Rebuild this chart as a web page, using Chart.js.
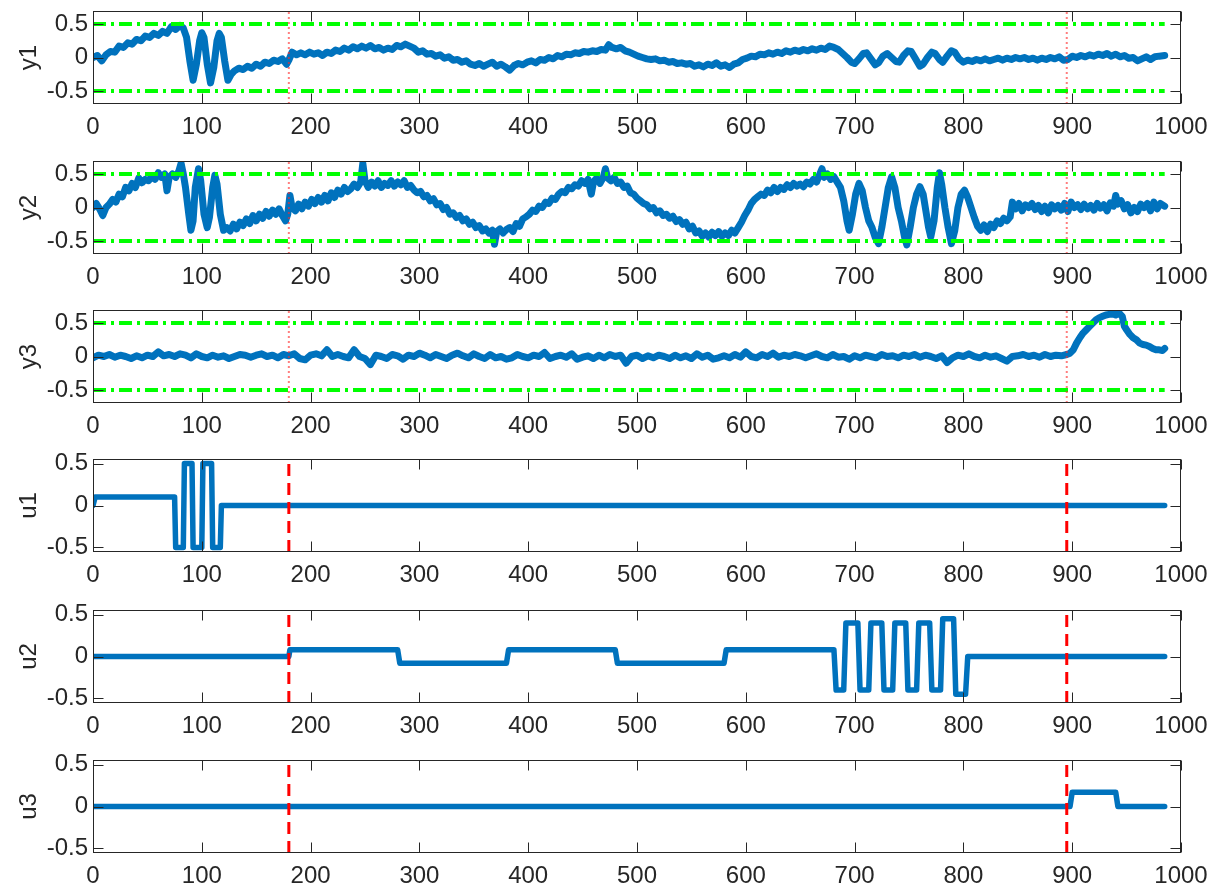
<!DOCTYPE html>
<html>
<head>
<meta charset="utf-8">
<script src="https://cdn.jsdelivr.net/npm/chart.js@4"></script>
<style>
  html, body { margin: 0; padding: 0; background: #fff; overflow: hidden; }
  .panel { position: absolute; left: 0; width: 1217px; height: 136px; }
</style>
</head>
<body>
<div class="panel" style="top:1px"><canvas id="c0" width="1217" height="136"></canvas></div>
<div class="panel" style="top:151px"><canvas id="c1" width="1217" height="136"></canvas></div>
<div class="panel" style="top:300px"><canvas id="c2" width="1217" height="136"></canvas></div>
<div class="panel" style="top:449px"><canvas id="c3" width="1217" height="136"></canvas></div>
<div class="panel" style="top:600px"><canvas id="c4" width="1217" height="136"></canvas></div>
<div class="panel" style="top:750px"><canvas id="c5" width="1217" height="136"></canvas></div>
<script>
// outputs y1..y3 as [time, value]
const y1Points = [[0,0.00],[4,0.03],[8,-0.05],[12,0.04],[16,0.09],[20,0.08],[24,0.17],[28,0.15],[32,0.22],[36,0.2],[40,0.27],[44,0.25],[48,0.32],[52,0.3],[56,0.36],[60,0.33],[64,0.39],[68,0.36],[72,0.46],[76,0.42],[80,0.48],[83,0.44],[86,0.3],[89,-0.05],[92,-0.34],[95,-0.1],[98,0.25],[100,0.37],[102,0.3],[105,-0.1],[108,-0.38],[111,-0.15],[114,0.25],[116,0.36],[118,0.3],[121,-0.05],[124,-0.34],[127,-0.25],[130,-0.2],[134,-0.16],[138,-0.18],[142,-0.13],[146,-0.16],[150,-0.1],[154,-0.13],[158,-0.07],[162,-0.09],[166,-0.04],[170,-0.06],[174,-0.02],[178,-0.1],[180,-0.04],[183,0.08],[187,0.04],[191,0.07],[195,0.04],[199,0.08],[203,0.05],[207,0.07],[211,0.03],[215,0.08],[219,0.06],[223,0.11],[227,0.09],[231,0.14],[235,0.11],[239,0.16],[243,0.13],[247,0.17],[251,0.14],[255,0.18],[259,0.13],[263,0.15],[267,0.11],[271,0.14],[275,0.12],[279,0.18],[283,0.16],[287,0.2],[291,0.17],[295,0.14],[299,0.08],[303,0.1],[307,0.05],[311,0.06],[315,0.02],[319,0.04],[323,-0.01],[327,0.01],[331,-0.04],[335,-0.03],[339,-0.07],[343,-0.05],[347,-0.1],[351,-0.12],[355,-0.09],[359,-0.13],[363,-0.1],[367,-0.07],[371,-0.13],[375,-0.1],[379,-0.14],[383,-0.19],[387,-0.12],[391,-0.09],[395,-0.11],[399,-0.07],[403,-0.05],[407,-0.08],[411,-0.03],[415,-0.04],[419,0.0],[423,-0.02],[427,0.03],[431,0.01],[435,0.05],[439,0.04],[443,0.07],[447,0.06],[451,0.09],[455,0.08],[459,0.1],[463,0.09],[467,0.12],[471,0.11],[474,0.19],[477,0.15],[481,0.13],[485,0.15],[489,0.1],[493,0.08],[497,0.05],[501,0.02],[505,0.0],[509,-0.02],[513,-0.03],[517,-0.02],[521,-0.05],[525,-0.04],[529,-0.07],[533,-0.06],[537,-0.09],[541,-0.08],[545,-0.1],[549,-0.09],[553,-0.13],[557,-0.11],[561,-0.14],[565,-0.1],[569,-0.12],[573,-0.08],[577,-0.13],[581,-0.11],[585,-0.15],[589,-0.1],[593,-0.08],[597,-0.03],[601,-0.01],[605,0.02],[609,0.01],[613,0.05],[617,0.04],[621,0.07],[625,0.05],[629,0.08],[633,0.06],[637,0.1],[641,0.08],[645,0.11],[649,0.09],[653,0.12],[657,0.1],[661,0.13],[665,0.11],[669,0.14],[673,0.12],[677,0.17],[681,0.15],[685,0.12],[689,0.06],[693,0.0],[697,-0.07],[700,-0.09],[704,-0.02],[708,0.06],[711,0.07],[715,-0.02],[719,-0.11],[722,-0.08],[726,0.02],[730,0.06],[734,0.0],[738,-0.06],[741,-0.07],[745,0.03],[749,0.1],[752,0.09],[756,-0.02],[760,-0.13],[763,-0.1],[767,0.0],[771,0.08],[774,0.06],[778,-0.03],[781,-0.07],[785,0.02],[789,0.1],[792,0.08],[796,-0.02],[800,-0.07],[804,-0.04],[808,-0.06],[812,-0.03],[816,-0.05],[820,-0.02],[824,-0.05],[828,-0.03],[832,-0.01],[836,-0.04],[840,-0.01],[844,-0.03],[848,0.0],[852,-0.02],[856,0.0],[860,-0.03],[864,-0.01],[868,-0.04],[872,-0.01],[876,-0.03],[880,0.0],[884,-0.02],[888,0.01],[892,-0.04],[896,-0.03],[900,0.02],[904,0.0],[908,0.03],[912,0.01],[916,0.04],[920,0.02],[924,0.05],[928,0.03],[932,0.06],[936,0.02],[940,0.05],[944,0.01],[948,0.03],[952,-0.01],[956,0.0],[960,-0.05],[964,-0.02],[968,0.01],[972,-0.03],[976,0.01],[980,0.02],[985,0.03]];

const y2Points = [[0,0.0],[3,0.06],[6,-0.02],[9,-0.12],[12,0.0],[15,0.05],[18,0.12],[21,0.08],[24,0.2],[27,0.16],[30,0.3],[33,0.25],[36,0.36],[39,0.3],[42,0.44],[45,0.37],[48,0.42],[51,0.4],[54,0.46],[57,0.42],[60,0.52],[63,0.45],[66,0.5],[68,0.25],[70,0.45],[73,0.5],[76,0.45],[79,0.55],[81,0.66],[83,0.5],[85,0.3],[88,-0.1],[90,-0.34],[92,-0.2],[94,0.3],[97,0.58],[99,0.4],[102,-0.1],[105,-0.3],[107,-0.15],[110,0.3],[112,0.48],[114,0.35],[117,-0.1],[120,-0.34],[123,-0.3],[126,-0.35],[129,-0.25],[132,-0.32],[135,-0.22],[138,-0.27],[141,-0.17],[144,-0.24],[147,-0.12],[150,-0.2],[153,-0.1],[156,-0.16],[159,-0.06],[162,-0.13],[165,-0.04],[168,-0.1],[171,-0.02],[174,-0.12],[177,-0.2],[179,-0.1],[181,0.18],[183,0.0],[186,-0.05],[189,0.05],[192,-0.02],[195,0.08],[198,0.02],[201,0.12],[204,0.06],[207,0.15],[210,0.08],[213,0.18],[216,0.1],[219,0.22],[222,0.15],[225,0.26],[228,0.2],[231,0.3],[234,0.24],[237,0.28],[240,0.35],[243,0.3],[246,0.38],[248,0.66],[250,0.4],[253,0.3],[256,0.38],[259,0.32],[262,0.4],[265,0.3],[268,0.36],[271,0.33],[274,0.4],[277,0.32],[280,0.38],[283,0.34],[286,0.4],[289,0.3],[292,0.33],[295,0.26],[298,0.22],[301,0.24],[304,0.16],[307,0.18],[310,0.1],[313,0.13],[316,0.04],[319,0.06],[322,-0.03],[325,0.0],[328,-0.1],[331,-0.08],[334,-0.15],[337,-0.12],[340,-0.2],[343,-0.17],[346,-0.25],[349,-0.22],[352,-0.3],[355,-0.27],[358,-0.35],[361,-0.32],[364,-0.38],[367,-0.34],[369,-0.55],[371,-0.36],[374,-0.32],[377,-0.38],[380,-0.33],[383,-0.3],[386,-0.36],[389,-0.24],[392,-0.28],[395,-0.17],[398,-0.14],[401,-0.1],[404,-0.04],[407,-0.06],[410,0.02],[413,0.0],[416,0.08],[419,0.06],[422,0.14],[425,0.12],[428,0.2],[431,0.24],[434,0.22],[437,0.3],[440,0.28],[443,0.34],[446,0.32],[449,0.4],[452,0.36],[455,0.42],[458,0.2],[460,0.38],[463,0.44],[466,0.36],[469,0.45],[471,0.58],[473,0.44],[476,0.4],[479,0.45],[482,0.36],[485,0.38],[488,0.3],[491,0.32],[494,0.22],[497,0.2],[500,0.14],[503,0.1],[506,0.06],[509,0.04],[512,-0.02],[515,0.0],[518,-0.08],[521,-0.05],[524,-0.12],[527,-0.1],[530,-0.16],[533,-0.13],[536,-0.21],[539,-0.18],[542,-0.25],[545,-0.22],[548,-0.32],[551,-0.28],[554,-0.38],[557,-0.35],[560,-0.43],[563,-0.38],[566,-0.44],[569,-0.37],[572,-0.42],[575,-0.36],[578,-0.43],[581,-0.38],[584,-0.42],[587,-0.34],[590,-0.38],[593,-0.3],[596,-0.22],[599,-0.12],[602,-0.04],[605,0.06],[608,0.12],[611,0.16],[614,0.2],[617,0.18],[620,0.26],[623,0.22],[626,0.3],[629,0.24],[632,0.3],[635,0.27],[638,0.34],[641,0.3],[644,0.36],[647,0.32],[650,0.35],[653,0.31],[656,0.38],[659,0.35],[662,0.42],[665,0.38],[668,0.5],[670,0.58],[672,0.45],[675,0.5],[678,0.42],[681,0.46],[684,0.38],[687,0.3],[690,0.1],[693,-0.2],[695,-0.34],[698,-0.1],[701,0.2],[704,0.36],[707,0.25],[710,0.0],[713,-0.2],[716,-0.3],[719,-0.45],[722,-0.54],[725,-0.3],[728,0.0],[731,0.3],[734,0.46],[737,0.3],[740,0.0],[743,-0.2],[746,-0.45],[748,-0.56],[751,-0.3],[754,0.0],[757,0.2],[760,0.31],[763,0.2],[766,-0.1],[768,-0.3],[770,-0.44],[773,-0.2],[776,0.3],[778,0.52],[780,0.35],[783,0.0],[786,-0.3],[789,-0.54],[792,-0.35],[795,0.0],[798,0.2],[801,0.26],[804,0.15],[807,0.0],[810,-0.15],[813,-0.28],[816,-0.34],[819,-0.26],[822,-0.36],[825,-0.25],[828,-0.3],[831,-0.2],[834,-0.24],[837,-0.16],[840,-0.2],[843,-0.14],[845,0.08],[848,-0.02],[851,0.06],[854,-0.05],[857,0.04],[860,0.0],[863,0.06],[866,-0.03],[869,0.03],[872,-0.06],[875,0.02],[878,-0.08],[881,0.04],[884,-0.02],[887,0.03],[890,-0.04],[893,0.06],[896,-0.06],[899,0.08],[902,0.0],[905,0.04],[908,-0.03],[911,0.05],[914,-0.02],[917,0.03],[920,-0.04],[923,0.06],[926,-0.01],[929,0.04],[932,-0.05],[935,0.07],[938,0.02],[940,0.18],[942,0.05],[945,0.1],[948,-0.02],[951,0.04],[954,-0.08],[957,0.0],[960,-0.06],[963,0.05],[966,0.0],[969,0.06],[972,-0.05],[975,0.08],[978,-0.02],[981,0.06],[985,0.02]];

const y3Points = [[0,-0.02],[5,0.02],[10,0.0],[15,0.03],[20,-0.01],[25,0.02],[30,0.0],[35,-0.03],[40,0.01],[45,-0.02],[50,0.02],[55,0.0],[60,0.07],[65,0.01],[70,0.03],[75,0.0],[80,0.04],[85,0.02],[90,-0.02],[95,0.04],[100,0.0],[105,-0.02],[110,0.02],[115,-0.01],[120,0.01],[125,-0.03],[130,0.0],[135,0.03],[140,0.02],[145,-0.01],[150,0.02],[155,0.04],[160,0.0],[165,0.02],[170,-0.02],[175,0.03],[180,0.01],[185,0.04],[190,-0.03],[195,-0.05],[200,0.02],[205,0.04],[210,0.01],[215,0.1],[220,0.0],[225,0.03],[230,0.0],[235,-0.02],[240,0.1],[245,0.0],[250,-0.03],[255,-0.12],[260,0.02],[265,0.0],[270,-0.03],[275,0.03],[280,0.01],[285,-0.04],[290,0.02],[295,0.0],[300,0.05],[305,0.02],[310,-0.02],[315,0.03],[320,0.0],[325,-0.03],[330,0.02],[335,0.05],[340,0.01],[345,-0.02],[350,0.04],[355,0.0],[360,-0.03],[365,0.03],[370,-0.02],[375,0.0],[380,-0.04],[385,-0.02],[390,0.03],[395,0.0],[400,-0.02],[405,0.02],[410,0.0],[415,0.06],[420,-0.03],[425,0.0],[430,0.02],[435,-0.01],[440,0.04],[445,-0.04],[450,-0.01],[455,0.01],[460,-0.03],[465,0.02],[470,-0.02],[475,0.03],[480,0.0],[485,0.02],[490,-0.1],[495,0.0],[500,0.02],[505,-0.03],[510,0.01],[515,-0.02],[520,0.02],[525,0.0],[530,-0.03],[535,0.02],[540,-0.02],[545,0.01],[550,-0.03],[555,0.04],[560,-0.01],[565,0.02],[570,-0.04],[575,-0.02],[580,0.01],[585,-0.02],[590,0.03],[595,-0.01],[600,0.07],[605,0.0],[610,-0.02],[615,0.03],[620,0.0],[625,0.05],[630,-0.01],[635,0.02],[640,0.0],[645,0.03],[650,0.01],[655,-0.02],[660,0.01],[665,0.04],[670,0.0],[675,-0.02],[680,0.03],[685,-0.01],[690,0.0],[695,-0.04],[700,0.01],[705,-0.02],[710,0.02],[715,0.0],[720,-0.02],[725,0.03],[730,0.0],[735,0.01],[740,-0.02],[745,0.02],[750,0.0],[755,0.03],[760,-0.01],[765,0.02],[770,0.0],[775,-0.03],[780,0.01],[785,-0.09],[790,-0.02],[795,0.02],[800,0.0],[805,0.04],[810,0.0],[815,-0.02],[820,0.02],[825,-0.01],[830,0.01],[835,-0.03],[840,-0.07],[845,0.0],[850,0.01],[855,0.03],[860,0.0],[865,0.02],[870,-0.01],[875,0.03],[880,0.0],[885,0.02],[890,0.01],[895,0.03],[898,0.05],[901,0.1],[904,0.2],[907,0.28],[910,0.35],[913,0.4],[916,0.45],[919,0.5],[922,0.55],[925,0.58],[928,0.6],[931,0.62],[934,0.63],[937,0.64],[940,0.62],[943,0.65],[946,0.6],[948,0.45],[950,0.4],[953,0.33],[956,0.28],[959,0.25],[962,0.2],[965,0.18],[968,0.17],[971,0.15],[974,0.12],[977,0.1],[980,0.1],[983,0.09],[985,0.12]];

// inputs u1..u3 (step signals)
const u1Points = [[0,0],[2,0.1],[75,0.1],[76,-0.5],[83,-0.5],[84,0.5],[91,0.5],[92,-0.5],[100,-0.5],[101,0.5],[109,0.5],[110,-0.5],[117,-0.5],[118,0],[985,0]];
const u2Points = [[0,0],[180,0],[181,0.08],[280,0.08],[282,-0.08],[380,-0.08],[382,0.08],[480,0.08],[482,-0.08],[580,-0.08],[582,0.08],[681,0.08],[683,-0.4],[690,-0.4],[692,0.4],[703,0.4],[705,-0.4],[713,-0.4],[715,0.4],[725,0.4],[727,-0.4],[735,-0.4],[737,0.4],[747,0.4],[749,-0.4],[757,-0.4],[759,0.4],[769,0.4],[771,-0.4],[779,-0.4],[781,0.45],[791,0.45],[793,-0.45],[802,-0.45],[804,0],[985,0]];
const u3Points = [[0,0],[898,0],[900,0.17],[940,0.17],[942,0],[985,0]];

const limitLevels = [0.5, -0.5];
const limitSpan = [0, 985];
const markerTimes = [180, 895];
const xTicks = [0, 100, 200, 300, 400, 500, 600, 700, 800, 900, 1000];
const yTicks = [-0.5, 0, 0.5];

const FONT = { family: "'Liberation Sans', Arial, sans-serif", size: 24 };
const TEXT = '#262626';
const BLUE = '#0072BD';

// MATLAB-like box with inward ticks
const boxPlugin = {
  id: 'box',
  afterDraw(chart) {
    const { ctx, chartArea: a, scales } = chart;
    const L = Math.round(a.left) + 0.5, R = Math.round(a.right) - 0.5;
    const T = Math.round(a.top) + 0.5, B = Math.round(a.bottom) - 0.5;
    ctx.save();
    ctx.strokeStyle = TEXT;
    ctx.lineWidth = 1;
    ctx.strokeRect(L, T, R - L, B - T);
    ctx.beginPath();
    xTicks.forEach(v => {
      const px = Math.round(scales.x.getPixelForValue(v)) + 0.5;
      ctx.moveTo(px, B); ctx.lineTo(px, B - 10);
      ctx.moveTo(px, T); ctx.lineTo(px, T + 10);
    });
    yTicks.forEach(v => {
      const py = Math.round(scales.y.getPixelForValue(v)) + 0.5;
      ctx.moveTo(L, py); ctx.lineTo(L + 10, py);
      ctx.moveTo(R, py); ctx.lineTo(R - 10, py);
    });
    ctx.stroke();
    ctx.restore();
  }
};

function toXY(points) {
  return points.map(p => ({ x: p[0], y: p[1] }));
}

function makePanel(id, label, points, lim, isInput) {
  const datasets = [];
  // vertical markers
  markerTimes.forEach(t => {
    datasets.push({
      data: isInput ? [{ x: t, y: -lim }, { x: t, y: 0.5 }] : [{ x: t, y: -lim }, { x: t, y: lim }],
      borderColor: isInput ? '#FF0000' : 'rgba(255,40,40,0.6)',
      borderWidth: isInput ? 3 : 2,
      borderDash: isInput ? [12, 7] : [2, 3],
      pointRadius: 0
    });
  });
  // limit lines for outputs
  if (!isInput) {
    limitLevels.forEach(v => {
      datasets.push({
        data: limitSpan.map(t => ({ x: t, y: v })),
        borderColor: '#00FF00',
        borderWidth: 4,
        borderDash: [13, 5, 3, 5],
        pointRadius: 0
      });
    });
  }
  datasets.push({
    data: toXY(points),
    borderColor: BLUE,
    borderWidth: isInput ? 5.5 : 7,
    borderJoinStyle: 'round',
    borderCapStyle: 'round',
    pointRadius: 0,
    tension: 0
  });

  new Chart(document.getElementById(id), {
    type: 'line',
    data: { datasets },
    options: {
      responsive: false,
      animation: false,
      layout: { padding: { left: 0, right: 36, top: 10, bottom: 0 } },
      plugins: { legend: { display: false }, tooltip: { enabled: false } },
      scales: {
        x: {
          type: 'linear', min: 0, max: 1000,
          afterBuildTicks: s => { s.ticks = xTicks.map(v => ({ value: v })); },
          ticks: { font: FONT, color: TEXT, padding: 9, maxRotation: 0, autoSkip: false, callback: v => String(v) },
          grid: { display: false, drawTicks: false },
          border: { display: false },
          afterFit: s => { s.height = 33; s.paddingLeft = 0; s.paddingRight = 0; }
        },
        y: {
          min: -lim, max: lim,
          afterBuildTicks: s => { s.ticks = yTicks.map(v => ({ value: v })); },
          ticks: { font: FONT, color: TEXT, padding: 5, callback: v => String(v) },
          grid: { display: false, drawTicks: false },
          border: { display: false },
          title: { display: true, text: label, font: FONT, color: TEXT, padding: { top: 15, bottom: 0 } },
          afterFit: s => { s.width = 93; s.paddingTop = 0; s.paddingBottom = 0; }
        }
      }
    },
    plugins: [boxPlugin]
  });
}

makePanel('c0', 'y1', y1Points, 0.695, false);
makePanel('c1', 'y2', y2Points, 0.695, false);
makePanel('c2', 'y3', y3Points, 0.695, false);
makePanel('c3', 'u1', u1Points, 0.555, true);
makePanel('c4', 'u2', u2Points, 0.555, true);
makePanel('c5', 'u3', u3Points, 0.555, true);
</script>
</body>
</html>
